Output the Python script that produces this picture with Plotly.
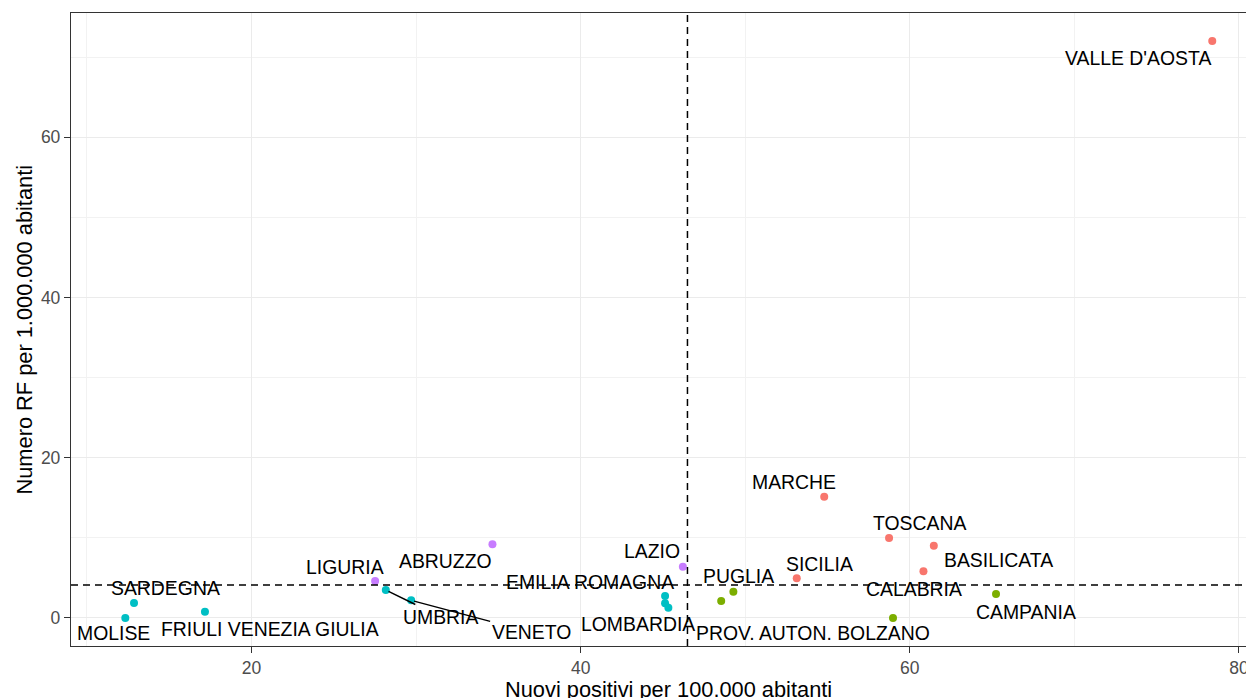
import plotly.graph_objects as go

# ---- data ----
regions = ["VALLE D'AOSTA", "MARCHE", "TOSCANA", "BASILICATA", "CALABRIA", "SICILIA",
           "CAMPANIA", "PROV. AUTON. BOLZANO", "PUGLIA", "PROV. AUTON. TRENTO", "LAZIO",
           "ABRUZZO", "LIGURIA", "EMILIA ROMAGNA", "PIEMONTE", "LOMBARDIA", "UMBRIA",
           "VENETO", "SARDEGNA", "MOLISE", "FRIULI VENEZIA GIULIA"]
shown = [True, True, True, True, True, True, True, True, True, False, True,
         True, True, True, False, True, True, True, True, True, True]
nuovi_positivi = [78.38, 54.80, 58.74, 61.46, 60.83, 53.13, 65.24, 58.98, 49.28, 48.54, 46.21,
                  34.64, 27.51, 45.13, 45.13, 45.33, 28.16, 29.70, 12.86, 12.33, 17.17]
numero_rf = [72.0, 15.13, 9.98, 9.02, 5.82, 4.95, 2.99, 0.0, 3.28, 2.12, 6.40,
             9.19, 4.62, 2.74, 1.83, 1.28, 3.49, 2.20, 1.87, 0.0, 0.79]
x_ref = 46.49
y_ref = 4.12
x_ticks = [20, 40, 60, 80]
y_ticks = [0, 20, 40, 60]
x_title = "Nuovi positivi per 100.000 abitanti"
y_title = "Numero RF per 1.000.000 abitanti"

# ---- style / label placement (pixel offsets of label centre from point) ----
label_offset = {
    "VALLE D'AOSTA": (-74, 17), "MARCHE": (-30, -15), "TOSCANA": (30, -15),
    "BASILICATA": (65, 14), "CALABRIA": (-9, 18), "SICILIA": (23, -14),
    "CAMPANIA": (30, 18), "PROV. AUTON. BOLZANO": (-80, 15), "PUGLIA": (5, -16),
    "LAZIO": (-31, -16), "ABRUZZO": (-47, 17), "LIGURIA": (-30, -14),
    "EMILIA ROMAGNA": (-75, -14), "LOMBARDIA": (-30, 16), "UMBRIA": (55, 27),
    "VENETO": (120, 32), "SARDEGNA": (31, -15), "MOLISE": (-12, 15),
    "FRIULI VENEZIA GIULIA": (65, 17),
}
with_segment = {"UMBRIA", "VENETO"}
colors = {"HH": "#F8766D", "HL": "#7CAE00", "LL": "#00BFC4", "LH": "#C77CFF"}
FONT = "Liberation Sans, Arial, sans-serif"

# panel of the original extends past the right image edge (ggplot 5% expansion)
x_full = [9.03, 81.68]
x_visible = [9.03, 80.43]
y_range = [-3.5, 75.5]


def quadrant(x, y):
    return ("H" if x > x_ref else "L") + ("H" if y > y_ref else "L")


fig = go.Figure()
for q in ["HH", "HL", "LH", "LL"]:
    idx = [i for i in range(len(regions)) if quadrant(nuovi_positivi[i], numero_rf[i]) == q]
    fig.add_trace(go.Scatter(
        x=[nuovi_positivi[i] for i in idx], y=[numero_rf[i] for i in idx],
        mode="markers", marker=dict(size=8, color=colors[q]),
        text=[regions[i] for i in idx], showlegend=False, hoverinfo="text+x+y"))

fig.add_shape(type="line", xref="x", yref="paper", x0=x_ref, x1=x_ref, y0=0, y1=1,
              line=dict(color="black", width=1.5, dash="7px,5px"))
fig.add_shape(type="line", xref="paper", yref="y", x0=0, x1=1, y0=y_ref, y1=y_ref,
              line=dict(color="black", width=1.5, dash="7px,5px"))

for i, name in enumerate(regions):
    if not shown[i]:
        continue
    dx, dy = label_offset[name]
    seg = name in with_segment
    fig.add_annotation(
        x=nuovi_positivi[i], y=numero_rf[i], text=name, showarrow=True,
        ax=dx, ay=dy, arrowhead=0, arrowwidth=1.5 if seg else 0.1,
        arrowcolor="black" if seg else "rgba(0,0,0,0)", standoff=3,
        font=dict(family=FONT, size=19.4, color="black"))

# axis titles
fig.add_annotation(x=(x_full[0] + x_full[1]) / 2, xref="x", y=0, yref="paper",
                   yanchor="middle", yshift=-43, text=x_title, showarrow=False,
                   font=dict(family=FONT, size=21.8, color="black"))
fig.add_annotation(x=(24 - 71) / 1175, xref="paper", y=0.5, yref="paper",
                   xanchor="center", yanchor="middle", textangle=-90, text=y_title,
                   showarrow=False, font=dict(family=FONT, size=21.8, color="black"))

axis_common = dict(
    showgrid=True, gridcolor="#EBEBEB", gridwidth=1.3, zeroline=False,
    showline=True, linecolor="#333333", linewidth=1.3, automargin=False,
    ticks="outside", ticklen=6, tickwidth=1.3, tickcolor="#333333",
    ticklabeloverflow="allow",
    tickfont=dict(family=FONT, size=17.5, color="#4D4D4D"),
    minor=dict(dtick=10, showgrid=True, gridcolor="#F2F2F2", gridwidth=0.9, ticks=""),
)
fig.update_xaxes(**axis_common, range=x_visible, tickvals=x_ticks, tick0=0, dtick=20,
                 mirror=True)
fig.update_yaxes(**axis_common, range=y_range, tickvals=y_ticks, tick0=0, dtick=20,
                 mirror=False)

fig.update_layout(width=1246, height=698, plot_bgcolor="white", paper_bgcolor="white",
                  margin=dict(l=71, r=0, t=13, b=52), showlegend=False)

fig.write_html("out.html", config={"displayModeBar": False},
               post_script="document.body.style.margin='0px';document.body.style.overflow='hidden';")
